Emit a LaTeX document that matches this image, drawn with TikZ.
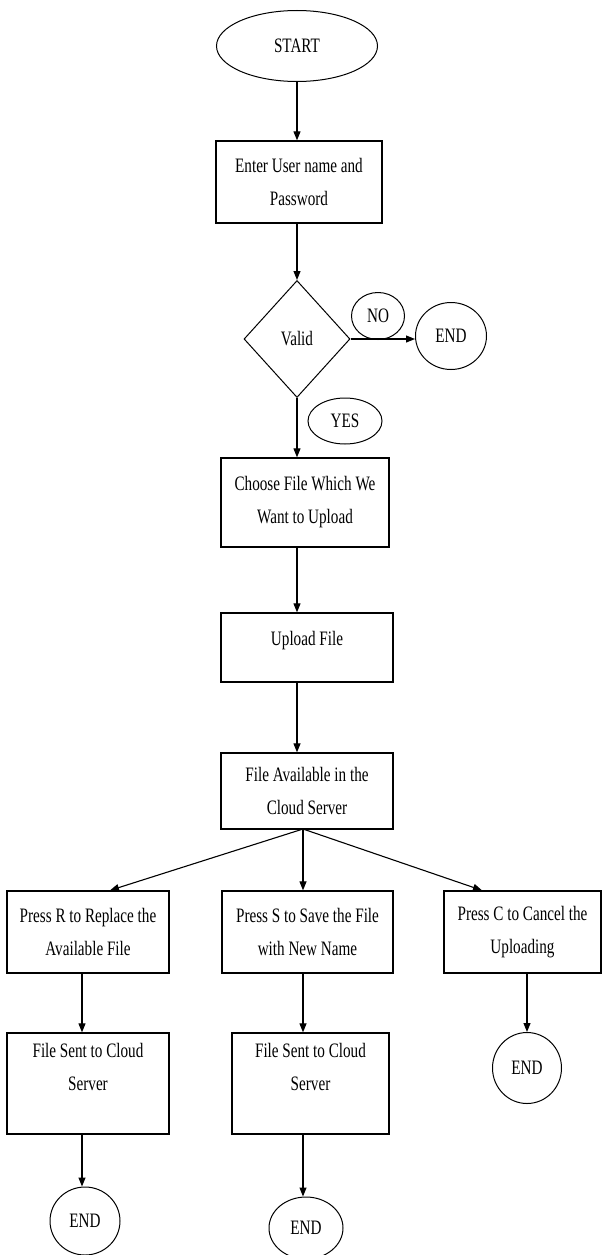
\documentclass[tikz,border=0pt]{standalone}
\usepackage{fontspec}
\setmainfont{Liberation Serif}[FakeStretch=0.74]
\usetikzlibrary{shapes.geometric, arrows.meta}

\begin{document}
\begin{tikzpicture}[x=1pt, y=-1pt,
  every node/.style={font=\fontsize{20.5}{33}\selectfont, align=center, inner sep=0pt},
  stepbox/.style={draw, line width=1.3pt, rectangle},
  oval/.style={draw, line width=1pt, ellipse},
  flow/.style={-{Triangle[length=9pt, width=7pt]}, line width=1.1pt}]
  \useasboundingbox (0,0) rectangle (602,1255);

  % Start and login
  \node[oval, minimum width=161, minimum height=71] (start) at (297,46) {START};
  \node[stepbox, minimum width=166, minimum height=82] (login) at (299,182)
    {Enter User name and\\Password};
  \draw[flow] (start) -- (start |- login.north);

  % Check
  \node[draw, line width=1pt, diamond, aspect=0.906, minimum width=106, minimum height=117]
    (valid) at (297,339) {Valid};
  \draw[flow] (valid |- login.south) -- (valid.north);
  \node[oval, minimum width=53, minimum height=47] (no) at (378,316) {NO};
  \node[oval, minimum width=71, minimum height=67] (endv) at (451,336) {END};
  \draw[flow] (valid.east) -- (valid.east -| endv.west);
  \node[oval, minimum width=74, minimum height=46] (yes) at (345,421) {YES};

  % Upload chain
  \node[stepbox, minimum width=168, minimum height=89] (choose) at (305,502.5)
    {Choose File Which We\\Want to Upload};
  \draw[flow] (valid.south) -- (valid.south |- choose.north);
  \node[stepbox, minimum width=172, minimum height=69] (upload) at (307,647.5)
    {Upload File\\[-14pt]~};
  \draw[flow] (valid.south |- choose.south) -- (valid.south |- upload.north);
  \node[stepbox, minimum width=172, minimum height=76] (avail) at (307,791)
    {File Available in the\\Cloud Server};
  \draw[flow] (valid.south |- upload.south) -- (valid.south |- avail.north);
  \coordinate (fan) at (303,829);

  % Three choices
  \node[stepbox, minimum width=162, minimum height=82] (replace) at (88,932)
    {Press R to Replace the\\Available File};
  \node[stepbox, minimum width=171, minimum height=82] (save) at (307.5,932)
    {Press S to Save the File\\with New Name};
  \node[stepbox, minimum width=157, minimum height=82] (cancel) at (522.5,932)
    {Press C to Cancel the\\Uploading};
  \draw[flow] (fan) -- (replace.north -| 110,0);
  \draw[flow] (fan) -- (fan |- save.north);
  \draw[flow] (fan) -- (cancel.north -| 482,0);

  % Results
  \node[stepbox, minimum width=162, minimum height=101] (sentr) at (88,1083.5)
    {File Sent to Cloud\\Server\\~};
  \node[stepbox, minimum width=157, minimum height=101] (sents) at (310.5,1083.5)
    {File Sent to Cloud\\Server\\~};
  \node[oval, minimum width=69, minimum height=71] (endc) at (527,1068) {END};
  \draw[flow] (replace.south -| 82,0) -- (sentr.north -| 82,0);
  \draw[flow] (fan |- save.south) -- (fan |- sents.north);
  \draw[flow] (cancel.south -| endc) -- (endc);

  \node[oval, minimum width=70, minimum height=68] (endr) at (85,1221) {END};
  \node[oval, minimum width=74, minimum height=62] (ends) at (306,1228) {END};
  \draw[flow] (sentr.south -| 82,0) -- (endr.north -| 82,0);
  \draw[flow] (fan |- sents.south) -- (fan |- ends.north);

\end{tikzpicture}
\end{document}
